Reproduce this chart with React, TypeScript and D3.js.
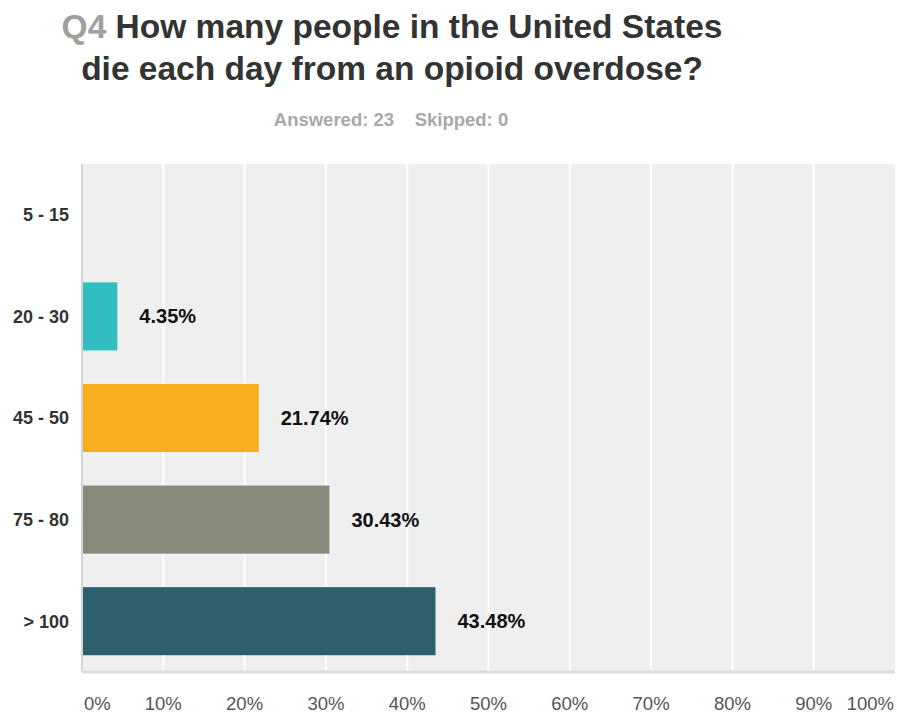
import React from "react";
import * as d3 from "d3";

const categories = ["5 - 15", "20 - 30", "45 - 50", "75 - 80", "> 100"];
const values = [0, 4.35, 21.74, 30.43, 43.48];
const colors = ["#31bec0", "#31bec0", "#f6ae1f", "#878a79", "#2e5f6c"];
const tickValues = [0, 10, 20, 30, 40, 50, 60, 70, 80, 90, 100];

const W = 897;
const H = 713;
const M = { left: 82, right: 2, top: 164, bottom: 41 };

export default function App() {
  const x = d3.scaleLinear().domain([0, 100]).range([M.left, W - M.right]);
  const y = d3
    .scaleBand<string>()
    .domain(categories)
    .range([M.top, H - M.bottom])
    .paddingInner(0.33)
    .paddingOuter(0.165);
  const font = "'Liberation Sans', Arial, Helvetica, sans-serif";
  const plotBottom = H - M.bottom;

  return (
    <svg
      width={W}
      height={H}
      style={{ position: "absolute", left: 0, top: 0 }}
      fontFamily={font}
    >
      <rect width={W} height={H} fill="#fff" />
      <text x={392} y={38} textAnchor="middle" fontSize={33.5} fontWeight="bold" fill="#333">
        <tspan fill="#a0a0a0">Q4</tspan> How many people in the United States
      </text>
      <text x={392} y={80} textAnchor="middle" fontSize={33.5} fontWeight="bold" fill="#333">
        die each day from an opioid overdose?
      </text>
      <text x={391} y={126} textAnchor="middle" fontSize={18.5} fontWeight="bold" fill="#a8a8a8">
        Answered: 23{"\u00a0\u00a0\u00a0\u00a0"}Skipped: 0
      </text>

      <rect
        x={M.left}
        y={M.top}
        width={x(100) - M.left}
        height={plotBottom - M.top}
        fill="#efefef"
      />
      {tickValues.slice(1, -1).map((t) => (
        <line
          key={t}
          x1={x(t)}
          x2={x(t)}
          y1={M.top}
          y2={plotBottom}
          stroke="#fff"
          strokeWidth={2}
        />
      ))}
      <line x1={M.left} x2={M.left} y1={M.top} y2={plotBottom} stroke="#d4d4d4" strokeWidth={2} />
      <line x1={M.left} x2={x(100)} y1={plotBottom} y2={plotBottom} stroke="#dcdcdc" strokeWidth={3} />

      {categories.map((c, i) => (
        <g key={c}>
          <text
            x={69}
            y={(y(c) as number) + y.bandwidth() / 2}
            dy="0.35em"
            textAnchor="end"
            fontSize={18}
            fontWeight="bold"
            fill="#333"
          >
            {c}
          </text>
          {values[i] > 0 && (
            <>
              <rect
                x={x(0) + 1}
                y={y(c) as number}
                width={x(values[i]) - x(0) - 1}
                height={y.bandwidth()}
                fill={colors[i]}
              />
              <text
                x={x(values[i]) + 22}
                y={(y(c) as number) + y.bandwidth() / 2}
                dy="0.35em"
                fontSize={20}
                fontWeight="bold"
                fill="#111"
              >
                {values[i].toFixed(2)}%
              </text>
            </>
          )}
        </g>
      ))}

      {tickValues.map((t, i) => {
        let anchor: "start" | "middle" | "end" = "middle";
        let tx = x(t);
        if (i === 0) {
          anchor = "start";
          tx = x(t) + 2;
        } else if (i === tickValues.length - 1) {
          anchor = "end";
          tx = x(t) - 1;
        }
        return (
          <text key={t} x={tx} y={710} textAnchor={anchor} fontSize={18.5} fill="#555">
            {t}%
          </text>
        );
      })}
    </svg>
  );
}
